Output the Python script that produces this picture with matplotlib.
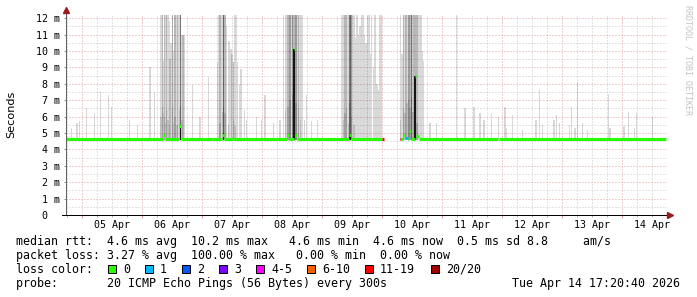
import numpy as np
import matplotlib
matplotlib.use('Agg')
from matplotlib import pyplot as plt
from matplotlib.patches import Rectangle

W, H = 697, 297  # output size in pixels (dpi 100)

# time is in fractional days of April 2026
t_start = 4.7333
t_end = 14.75
y_top = 12.22  # ms

day_ticks = list(range(5, 15))
day_labels = ['%02d Apr' % d for d in day_ticks]
ms_ticks = list(range(0, 13))
ms_labels = ['0  '] + ['%d m' % v for v in range(1, 13)]

smoke_base = 4.55

# light smoke columns (time, top in ms), 12.4 = beyond the top
light_t = [4.828, 4.917, 4.955, 5.078, 5.205, 5.312, 5.438, 5.495, 5.788, 5.928,
           6.133, 6.205,
           6.317, 6.338, 6.355, 6.372, 6.392, 6.412, 6.433, 6.455, 6.467, 6.483,
           6.505, 6.528, 6.550, 6.583, 6.600, 6.622, 6.645, 6.667, 6.683, 6.700,
           6.845, 6.967, 7.105,
           7.262, 7.283, 7.300, 7.317, 7.338, 7.355, 7.383, 7.408, 7.438, 7.462,
           7.483, 7.500, 7.522, 7.550, 7.570, 7.595, 7.620,
           7.650, 7.705, 7.745, 7.912, 7.995, 8.050, 8.188, 8.300,
           8.355, 8.392, 8.417, 8.433, 8.450, 8.467, 8.483, 8.505, 8.517, 8.533,
           8.550, 8.567, 8.583, 8.605, 8.625, 8.642, 8.658, 8.675,
           8.705, 8.745, 8.828, 8.922,
           9.328, 9.342, 9.358, 9.383, 9.412, 9.425, 9.442, 9.467, 9.483, 9.495,
           9.508, 9.533, 9.558, 9.583, 9.608, 9.633, 9.658, 9.683, 9.708, 9.733,
           9.758, 9.783, 9.808, 9.828, 9.855, 9.883, 9.917, 9.938, 9.967, 9.995,
           10.312, 10.333, 10.355, 10.383, 10.400, 10.417, 10.438, 10.450, 10.467,
           10.495, 10.517, 10.533, 10.550, 10.567, 10.583, 10.600, 10.625, 10.645,
           10.662, 10.675, 10.688,
           10.800, 10.912, 11.245, 11.383, 11.533, 11.633, 11.700, 11.828, 11.938,
           12.050, 12.078, 12.178, 12.345, 12.567, 12.622, 12.678, 12.867, 12.912,
           12.955, 13.122, 13.162, 13.217, 13.255, 13.345, 13.428, 13.772, 13.800,
           14.033, 14.105, 14.205, 14.245, 14.512]
light_hi = [5.3, 5.6, 5.7, 6.5, 6.2, 7.5, 7.3, 6.6, 5.8, 5.5,
            9.0, 7.5,
            12.4, 12.4, 9.4, 12.4, 12.4, 12.4, 12.4, 11.8, 9.5, 10.5,
            12.4, 10.0, 12.4, 12.4, 12.4, 12.4, 12.4, 11.0, 11.0, 11.0,
            7.9, 6.0, 8.4,
            9.3, 12.4, 12.4, 12.4, 12.4, 12.4, 12.4, 11.5, 10.6, 10.6,
            10.1, 9.8, 9.3, 12.4, 12.4, 9.3, 8.0,
            8.9, 6.4, 5.8, 6.0, 5.8, 7.3, 5.6, 5.8,
            12.4, 12.4, 12.4, 12.4, 12.4, 12.4, 12.4, 12.4, 12.4, 12.4,
            12.4, 12.4, 12.4, 12.4, 12.4, 12.4, 12.4, 12.4,
            5.8, 7.3, 5.7, 5.8,
            12.4, 12.4, 12.4, 12.4, 12.4, 12.4, 12.4, 12.4, 12.4, 12.4,
            12.4, 12.4, 10.8, 12.4, 11.0, 11.5, 12.4, 12.4, 11.0, 10.5,
            12.4, 12.4, 9.8, 12.4, 9.0, 12.4, 8.0, 7.6, 12.4, 12.4,
            12.4, 9.8, 12.4, 12.4, 12.4, 12.4, 12.4, 12.4, 12.4,
            12.4, 12.4, 12.4, 12.4, 12.4, 12.4, 12.4, 12.4, 12.4,
            12.4, 10.0, 9.4,
            5.6, 5.6, 12.4, 6.5, 6.6, 6.2, 5.8, 6.2, 6.0,
            6.6, 5.3, 6.1, 5.2, 5.8, 7.7, 5.5, 5.8, 6.1,
            5.6, 5.5, 6.6, 5.3, 8.1, 5.6, 5.2, 7.4, 5.3,
            5.4, 6.3, 5.3, 6.2, 6.0]

# denser smoke in the lower part of the busy periods
core_t = [6.317, 6.338, 6.355, 6.372, 6.392, 6.412, 6.433, 6.455, 6.505, 6.528,
          6.550, 6.583, 6.622, 6.645, 6.667,
          7.300, 7.338, 7.355, 7.383, 7.438, 7.522, 7.550,
          8.392, 8.433, 8.467, 8.505, 8.533, 8.567, 8.605, 8.642,
          9.358, 9.383, 9.412, 9.442, 9.467, 9.495, 9.533,
          10.312, 10.355, 10.383, 10.417, 10.438, 10.467, 10.495, 10.517, 10.550, 10.583]
core_hi = [6.0, 6.6, 6.2, 6.0, 5.6, 6.4, 5.8, 5.5, 6.5, 5.6,
           6.0, 5.5, 6.4, 6.7, 5.8,
           5.6, 6.3, 6.6, 6.2, 5.5, 5.8, 5.4,
           6.4, 6.6, 7.0, 7.4, 7.0, 6.8, 6.5, 5.8,
           5.8, 6.2, 6.5, 5.6, 6.8, 6.0, 5.5,
           5.8, 6.5, 6.2, 6.8, 7.0, 6.5, 7.2, 6.3, 6.0, 5.6]

# darker full-range columns
mid_t = [6.338, 6.372, 6.412, 6.505, 6.550, 7.355, 7.383, 7.522, 8.467, 8.505,
         8.567, 8.605, 9.383, 9.412, 9.495, 10.355, 10.438, 10.467]
mid_hi = [12.4, 12.4, 12.4, 12.4, 12.4, 12.4, 12.4, 9.3, 12.4, 12.4,
          12.4, 12.4, 12.4, 12.4, 12.4, 12.4, 12.4, 12.4]
dark_t = [6.640, 7.355, 9.467, 10.495]
dark_hi = [12.4, 12.4, 12.4, 12.4]
black_t = [6.640, 7.355, 8.533, 9.467, 10.550]
black_hi = [5.4, 5.0, 10.1, 4.9, 8.45]

# median rtt segments: start, end, value (ms), loss class
med_start = [4.733, 6.350, 6.375, 6.617, 6.650, 7.333, 7.367, 8.417, 8.450, 8.525,
             8.550, 8.583, 9.450, 9.483, 10.000, 10.292, 10.317, 10.350, 10.383,
             10.433, 10.458, 10.483, 10.542, 10.567, 10.617, 11.942]
med_end = [6.350, 6.375, 6.617, 6.650, 7.333, 7.367, 8.417, 8.450, 8.525, 8.550,
           8.583, 9.450, 9.483, 10.000, 10.025, 10.317, 10.350, 10.383, 10.433,
           10.458, 10.483, 10.542, 10.567, 10.617, 11.925, 14.733]
med_val = [4.65, 4.88, 4.65, 5.4, 4.65, 4.85, 4.65, 4.85, 4.65, 10.1,
           4.9, 4.65, 4.85, 4.65, 4.62, 4.62, 4.65, 4.85, 4.7,
           4.65, 5.1, 4.65, 8.45, 4.8, 4.65, 4.65]
med_loss = [0, 0, 0, 0, 0, 0, 0, 0, 0, 0,
            0, 0, 0, 0, 6, 6, 0, 0, 1,
            0, 0, 0, 0, 0, 0, 0]

loss_names = ['0', '1', '2', '3', '4-5', '6-10', '11-19', '20/20']
loss_colors = ['#26ff00', '#00b8ff', '#0059ff', '#7e00ff', '#ff00ff', '#ff5e00',
               '#ff0000', '#a10000']

mono = 'DejaVu Sans Mono'
fig = plt.figure(figsize=(W / 100, H / 100), dpi=100)
fig.patch.set_facecolor('white')
ax = fig.add_axes([66 / W, 1 - 215 / H, 601 / W, 200.5 / H])
ax.set_xlim(t_start, t_end)
ax.set_ylim(0, y_top)
for s in ax.spines.values():
    s.set_visible(False)

dots = (0, (1, 2))
px = 0.72
col = 1.2 / 60  # one consolidated step is about one pixel
six_h = np.arange(4.75, t_end, 0.25)
minor_x = [x for x in six_h if abs(x - round(x)) > 1e-6]
ax.vlines(minor_x, 0, y_top, colors='#c8c8c8', linestyles=dots, lw=px, zorder=0)
ax.vlines(day_ticks, 0, y_top, colors='#e4a0a0', linestyles=dots, lw=px, zorder=0)
ax.hlines(np.arange(0.5, 12.0, 1.0), t_start, t_end, colors='#c8c8c8',
          linestyles=dots, lw=px, zorder=0)
ax.hlines(ms_ticks[1:], t_start, t_end, colors='#e4a0a0', linestyles=dots, lw=px, zorder=0)


def smoke(ts, his, alpha, z, color='k'):
    his = np.array(his)
    ax.bar(ts, his - smoke_base, width=col, bottom=smoke_base, color=color,
           alpha=alpha, lw=0, zorder=z)


smoke(light_t, light_hi, 0.15, 2)
smoke(core_t, core_hi, 0.12, 2)
smoke(mid_t, mid_hi, 0.15, 3)
smoke(dark_t, dark_hi, 0.45, 3)
smoke(black_t, black_hi, 1.0, 4, color='#151515')

# median
ax.hlines(med_val, med_start, med_end, colors=[loss_colors[i] for i in med_loss],
          lw=2.2, zorder=5, capstyle='butt')

# axes
ax.plot([0, 0], [0, 1.02], color='#606060', lw=px, transform=ax.transAxes, clip_on=False, zorder=6)
ax.plot([-0.006, 1.003], [0, 0], color='black', lw=px, transform=ax.transAxes, clip_on=False, zorder=6)
ax.plot([0], [1.022], marker='^', ms=4, color='#9a1c1c', transform=ax.transAxes, clip_on=False, zorder=7)
ax.plot([1.005], [0], marker='>', ms=4, color='#9a1c1c', transform=ax.transAxes, clip_on=False, zorder=7)

ax.set_xticks(day_ticks)
ax.set_xticklabels([])
ax.set_xticks(minor_x, minor=True)
ax.tick_params(axis='x', which='major', length=2.2, width=px, color='#e4a0a0')
ax.tick_params(axis='x', which='minor', length=1.5, width=px, color='#b0b0b0')
for d, lab in zip(day_ticks, day_labels):
    ax.text(d + 0.5, -9.5 / 200.5, lab, transform=ax.get_xaxis_transform(),
            ha='center', va='center', family=mono, fontsize=7.2)

ax.set_yticks(ms_ticks)
ax.set_yticklabels(ms_labels, family=mono, fontsize=7.2)
ax.tick_params(axis='y', which='major', length=1.5, width=px, color='#909090', pad=2.6)

fig.text(11 / W, 1 - 114 / H, 'Seconds', rotation=90, ha='center', va='center',
         fontsize=8.1)
fig.text(688 / W, 1 - 60 / H, 'RRDTOOL / TOBI OETIKER', rotation=270, ha='center',
         va='center', family=mono, fontsize=6, color='#c4c4c4')

fs = 8.35
rows = ['median rtt:  4.6 ms avg  10.2 ms max   4.6 ms min  4.6 ms now  0.5 ms sd 8.8     am/s',
        'packet loss: 3.27 % avg  100.00 % max   0.00 % min  0.00 % now',
        'loss color:',
        'probe:       20 ICMP Echo Pings (56 Bytes) every 300s']
for i, r in enumerate(rows):
    fig.text(16 / W, 1 - (245 + 14 * i) / H, r, family=mono, fontsize=fs,
             ha='left', va='baseline')
fig.text(680 / W, 1 - 287 / H, 'Tue Apr 14 17:20:40 2026', family=mono, fontsize=fs,
         ha='right', va='baseline')

box_x = [108, 145, 182, 219, 256, 307, 365, 431]
for bx, c, n in zip(box_x, loss_colors, loss_names):
    fig.add_artist(Rectangle((bx / W, 1 - 273 / H), 8 / W, 8 / H, facecolor=c,
                             edgecolor='black', lw=px, transform=fig.transFigure))
    fig.text((bx + 15) / W, 1 - 273 / H, n, family=mono, fontsize=fs,
             ha='left', va='baseline')

fig.savefig('out.png', dpi=100)
